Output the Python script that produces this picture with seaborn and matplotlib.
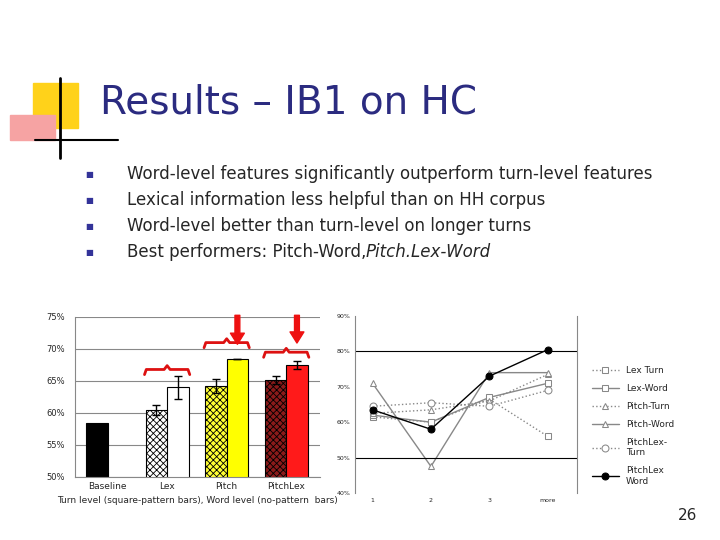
import matplotlib
matplotlib.use("Agg")
import matplotlib.pyplot as plt
import seaborn as sns
import pandas as pd
import numpy as np
from matplotlib.patches import Rectangle

sns.set_style("white")
plt.rcParams['font.family'] = ['DejaVu Sans']
plt.rcParams['hatch.linewidth'] = 0.6

# ---- data: bar chart ----
categories = ["Baseline", "Lex", "Pitch", "PitchLex"]
turn_vals = [58.5, 60.5, 64.2, 65.2]
word_vals = [np.nan, 64.0, 68.4, 67.5]
turn_err = [0, 0.8, 1.1, 0.6]
word_err = [0, 1.8, 0.0, 0.7]
bar_yticks = [50, 55, 60, 65, 70, 75]

# ---- data: line chart ----
turn_len = ["1", "2", "3", "more"]
lex_turn = [61.5, 60.0, 66.5, 56.0]
lex_word = [62.0, 60.0, 67.0, 71.0]
pitch_turn = [62.5, 63.5, 66.0, 73.5]
pitch_word = [71.0, 47.5, 74.0, 74.0]
pitchlex_turn = [64.5, 65.5, 64.5, 69.0]
pitchlex_word = [63.5, 58.0, 73.0, 80.5]
line_yticks = [40, 50, 60, 70, 80, 90]

W, H = 720, 540
fig = plt.figure(figsize=(7.2, 5.4), dpi=100)

def fx(px): return px / W
def fy(py): return 1 - py / H

# slide decoration
fig.patches.append(Rectangle((fx(33), fy(128)), 45/W, 45/H, transform=fig.transFigure, color="#FFD21A", zorder=0))
fig.patches.append(Rectangle((fx(10), fy(140)), 45/W, 25/H, transform=fig.transFigure, color="#F6A3A3", zorder=0))
fig.lines.append(plt.Line2D([fx(60), fx(60)], [fy(78), fy(158)], transform=fig.transFigure, color="black", lw=2))
fig.lines.append(plt.Line2D([fx(35), fx(118)], [fy(140), fy(140)], transform=fig.transFigure, color="black", lw=1.5))
fig.text(fx(100), fy(103), "Results – IB1 on HC", fontsize=28, color="#2B2B80", va="center")
bullets = ["Word-level features significantly outperform turn-level features",
           "Lexical information less helpful than on HH corpus",
           "Word-level better than turn-level on longer turns",
           "Best performers: Pitch-Word, "]
for i, b in enumerate(bullets):
    y = fy(174 + 26 * i)
    fig.text(fx(85), y, "■", fontsize=6, color="#333399", va="center")
    fig.text(fx(127), y, b, fontsize=12, va="center")
fig.text(fx(366), fy(252), "Pitch.Lex-Word", fontsize=12, style="italic", va="center")
fig.text(fx(688), fy(516), "26", fontsize=11, va="center", ha="center")

# ---- bar chart ----
ax1 = fig.add_axes([fx(75), fy(477), 245/W, 160/H])
df = pd.DataFrame({"cat": categories * 2,
                   "level": ["Turn"] * 4 + ["Word"] * 4,
                   "val": turn_vals + [0 if np.isnan(v) else v for v in word_vals]})
sns.barplot(data=df, x="cat", y="val", hue="level", ax=ax1, legend=False,
            width=0.72, edgecolor="black", linewidth=0.8)
turn_cols = ["black", "white", "#FFFF33", "#8B1A1A"]
word_cols = ["white", "white", "#FFFF00", "#FF1A1A"]
pts = list(ax1.patches)
for i in range(4):
    p = pts[i]
    p.set_facecolor(turn_cols[i])
    if i > 0:
        p.set_hatch("xxxxx")
    cx_t = p.get_x() + p.get_width() / 2
    if turn_err[i] > 0:
        ax1.errorbar(cx_t, turn_vals[i], yerr=turn_err[i], color="black", capsize=3, lw=1)
    if 4 + i < len(pts):
        q = pts[4 + i]
        q.set_facecolor(word_cols[i])
        if i > 0:
            cx_w = q.get_x() + q.get_width() / 2
            ax1.errorbar(cx_w, word_vals[i], yerr=word_err[i], color="black", capsize=3, lw=1)
ax1.set_ylim(50, 75)
ax1.set_yticks(bar_yticks)
ax1.set_yticklabels([f"{v}%" for v in bar_yticks], fontsize=6)
ax1.yaxis.grid(True, color="#888888", lw=0.8)
ax1.set_xlabel("Turn level (square-pattern bars), Word level (no-pattern  bars)", fontsize=6.5)
ax1.set_ylabel("")
ax1.tick_params(axis="x", labelsize=6.5, length=0)
for s in ["top", "right"]:
    ax1.spines[s].set_visible(False)
ax1.spines["left"].set_color("#888888")
ax1.spines["bottom"].set_color("#888888")

# braces & arrows (red)
def brace(ax, x0, x1, y):
    xm = (x0 + x1) / 2
    xs = [x0, x0 + 0.03, xm - 0.05, xm, xm + 0.05, x1 - 0.03, x1]
    ys = [y - 0.8, y, y, y + 0.6, y, y, y - 0.8]
    ax.plot(xs, ys, color="#DD1111", lw=2, clip_on=False, solid_capstyle="round")
brace(ax1, 0.62, 1.38, 66.8)
brace(ax1, 1.62, 2.38, 71.0)
brace(ax1, 2.62, 3.38, 69.5)
for k, top in [(6, 70.3), (7, 70.5)]:
    if k < len(pts):
        cx = pts[k].get_x() + pts[k].get_width() / 2
        ax1.annotate("", xy=(cx, top), xytext=(cx, 75.7),
                     arrowprops=dict(arrowstyle="simple,head_width=1.0,head_length=0.8,tail_width=0.35",
                                     color="#EE1111"), annotation_clip=False)

# ---- line chart ----
ax2 = fig.add_axes([fx(355), fy(493), 222/W, 177/H])
xpos = list(range(4))
series = [
    ("Lex Turn", lex_turn, ":", "s", "white", "#888888"),
    ("Lex-Word", lex_word, "-", "s", "white", "#888888"),
    ("Pitch-Turn", pitch_turn, ":", "^", "white", "#888888"),
    ("Pitch-Word", pitch_word, "-", "^", "white", "#888888"),
    ("PitchLex-\nTurn", pitchlex_turn, ":", "o", "white", "#888888"),
    ("PitchLex\nWord", pitchlex_word, "-", "o", "black", "black"),
]
for name, vals, ls, mk, mfc, col in series:
    sns.lineplot(x=xpos, y=vals, ax=ax2, linestyle=ls, marker=mk, color=col,
                 markerfacecolor=mfc, markeredgecolor=col, markersize=5, lw=1, label=name)
ax2.set_ylim(40, 90)
ax2.set_yticks(line_yticks)
ax2.set_yticklabels([f"{v}%" for v in line_yticks], fontsize=4.5)
ax2.set_xlim(-0.3, 3.5)
ax2.set_xticks(xpos)
ax2.set_xticklabels(turn_len, fontsize=4.5)
ax2.axhline(50, color="black", lw=0.8)
ax2.axhline(80, color="black", lw=0.8)
ax2.spines["top"].set_visible(False)
ax2.spines["bottom"].set_visible(False)
ax2.spines["left"].set_color("#888888")
ax2.spines["right"].set_color("#888888")
ax2.tick_params(length=0)
ax2.legend(loc="center left", bbox_to_anchor=(1.03, 0.38), frameon=False, fontsize=6.5,
           labelspacing=1.0, handlelength=3)

fig.savefig("out.png", dpi=100)
